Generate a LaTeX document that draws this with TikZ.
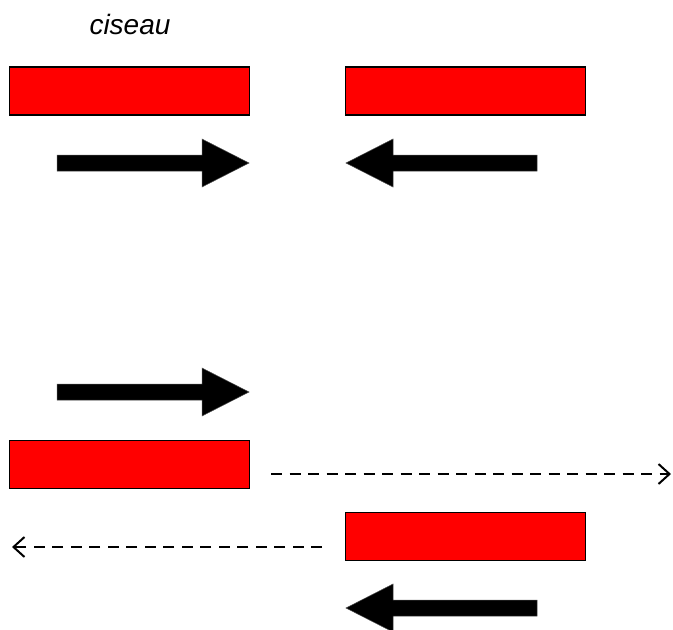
\documentclass[tikz,border=0pt]{standalone}
\usepackage{fontspec}
\setmainfont{Liberation Sans}
\usetikzlibrary{arrows.meta}
\begin{document}
\begin{tikzpicture}[x=1pt,y=-1pt,
  bar/.style={draw=black,fill=red,line width=1.5pt,minimum width=240pt,minimum height=48pt,inner sep=0pt,outer sep=0pt},
  bigarrow/.style={fill=black,draw=black!70,line width=0.5pt},
  dashline/.style={line width=2.2pt,dash pattern=on 11pt off 7.5pt,-{Straight Barb[length=11pt,width=20pt,line width=2pt]}},
  lbl/.style={font=\fontsize{28}{32}\selectfont\itshape,inner sep=0pt}]
\useasboundingbox (0,0) rectangle (673,630);
\node[lbl] (title) at (130,24) {ciseau};
\node[bar] (r1) at (129.5,91) {};
\node[bar] (r2) at (465.5,91) {};
\node[bar] (r3) at (129.5,464.5) {};
\node[bar] (r4) at (465.5,536.5) {};
% big arrows
\path[bigarrow] (57,155) -- (202,155) -- (202,139) -- (249,163) -- (202,187) -- (202,171) -- (57,171) -- cycle;
\path[bigarrow] (537,155) -- (393,155) -- (393,139) -- (346,163) -- (393,187) -- (393,171) -- (537,171) -- cycle;
\path[bigarrow] (57,384) -- (202,384) -- (202,368) -- (249,392) -- (202,416) -- (202,400) -- (57,400) -- cycle;
\path[bigarrow] (537,600) -- (393,600) -- (393,584) -- (346,608) -- (393,632) -- (393,616) -- (537,616) -- cycle;
% dashed lines
\coordinate (d1s) at (271,474);
\coordinate (d1e) at (671,474);
\coordinate (d2s) at (322,547);
\coordinate (d2e) at (12,547);
\draw[dashline] (d1s) -- (d1e);
\draw[dashline] (d2s) -- (d2e);
\end{tikzpicture}
\end{document}
